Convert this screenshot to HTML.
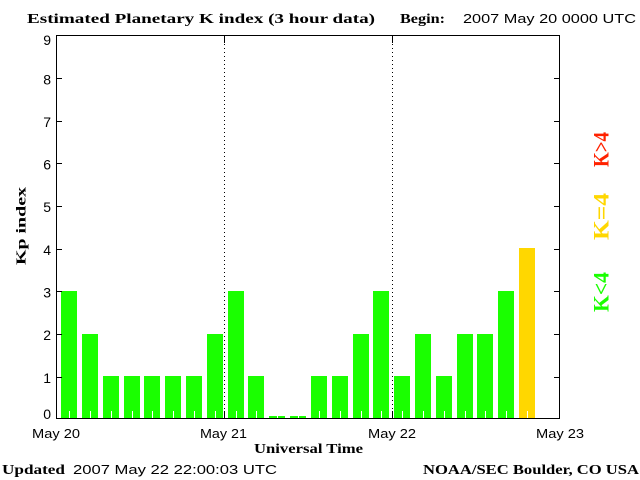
<!DOCTYPE html>
<html><head><meta charset="utf-8"><style>
html,body{margin:0;padding:0;background:#fff;}
svg{display:block;}
</style></head><body>
<svg width="640" height="480" viewBox="0 0 640 480" xmlns="http://www.w3.org/2000/svg" shape-rendering="crispEdges">
<rect x="0" y="0" width="640" height="480" fill="#fff"/>
<!-- bars -->
<g fill="#1aff00">
<rect x="61" y="291" width="16" height="128"/>
<rect x="82" y="334" width="16" height="85"/>
<rect x="103" y="376" width="16" height="43"/>
<rect x="124" y="376" width="16" height="43"/>
<rect x="144" y="376" width="16" height="43"/>
<rect x="165" y="376" width="16" height="43"/>
<rect x="186" y="376" width="16" height="43"/>
<rect x="207" y="334" width="16" height="85"/>
<rect x="228" y="291" width="16" height="128"/>
<rect x="248" y="376" width="16" height="43"/>
<rect x="269" y="416" width="16" height="3"/>
<rect x="290" y="416" width="16" height="3"/>
<rect x="311" y="376" width="16" height="43"/>
<rect x="332" y="376" width="16" height="43"/>
<rect x="353" y="334" width="16" height="85"/>
<rect x="373" y="291" width="16" height="128"/>
<rect x="394" y="376" width="16" height="43"/>
<rect x="415" y="334" width="16" height="85"/>
<rect x="436" y="376" width="16" height="43"/>
<rect x="457" y="334" width="16" height="85"/>
<rect x="477" y="334" width="16" height="85"/>
<rect x="498" y="291" width="16" height="128"/>
</g>
<rect x="519" y="248" width="16" height="171" fill="#ffd700"/>
<!-- white ticks on bars -->
<g fill="#fff">
<rect x="69" y="411" width="1" height="8"/>
<rect x="90" y="411" width="1" height="8"/>
<rect x="111" y="411" width="1" height="8"/>
<rect x="132" y="411" width="1" height="8"/>
<rect x="152" y="411" width="1" height="8"/>
<rect x="173" y="411" width="1" height="8"/>
<rect x="194" y="411" width="1" height="8"/>
<rect x="215" y="411" width="1" height="8"/>
<rect x="236" y="411" width="1" height="8"/>
<rect x="256" y="411" width="1" height="8"/>
<rect x="277" y="411" width="1" height="8"/>
<rect x="298" y="411" width="1" height="8"/>
<rect x="319" y="411" width="1" height="8"/>
<rect x="340" y="411" width="1" height="8"/>
<rect x="361" y="411" width="1" height="8"/>
<rect x="381" y="411" width="1" height="8"/>
<rect x="402" y="411" width="1" height="8"/>
<rect x="423" y="411" width="1" height="8"/>
<rect x="444" y="411" width="1" height="8"/>
<rect x="465" y="411" width="1" height="8"/>
<rect x="485" y="411" width="1" height="8"/>
<rect x="506" y="411" width="1" height="8"/>
<rect x="527" y="411" width="1" height="8"/>
</g>
<!-- axes frame -->
<rect x="56.5" y="35.5" width="503" height="383" fill="none" stroke="#000" stroke-width="1"/>
<!-- y ticks -->
<g stroke="#000" stroke-width="1">
<line x1="56" y1="78.5" x2="62" y2="78.5"/><line x1="554" y1="78.5" x2="560" y2="78.5"/>
<line x1="56" y1="121.5" x2="62" y2="121.5"/><line x1="554" y1="121.5" x2="560" y2="121.5"/>
<line x1="56" y1="163.5" x2="62" y2="163.5"/><line x1="554" y1="163.5" x2="560" y2="163.5"/>
<line x1="56" y1="206.5" x2="62" y2="206.5"/><line x1="554" y1="206.5" x2="560" y2="206.5"/>
<line x1="56" y1="249.5" x2="62" y2="249.5"/><line x1="554" y1="249.5" x2="560" y2="249.5"/>
<line x1="56" y1="291.5" x2="62" y2="291.5"/><line x1="554" y1="291.5" x2="560" y2="291.5"/>
<line x1="56" y1="334.5" x2="62" y2="334.5"/><line x1="554" y1="334.5" x2="560" y2="334.5"/>
<line x1="56" y1="377.5" x2="62" y2="377.5"/><line x1="554" y1="377.5" x2="560" y2="377.5"/>
<!-- day lines -->
<line x1="224.5" y1="35" x2="224.5" y2="43"/>
<line x1="224.5" y1="411" x2="224.5" y2="419"/>
<line x1="392.5" y1="35" x2="392.5" y2="43"/>
<line x1="392.5" y1="411" x2="392.5" y2="419"/>
<line x1="224.5" y1="44" x2="224.5" y2="411" stroke-dasharray="1 3"/>
<line x1="392.5" y1="44" x2="392.5" y2="411" stroke-dasharray="1 3"/>
</g>
<!-- y labels -->
<g font-family="'Liberation Sans', sans-serif" font-size="14" fill="#000" text-anchor="end">
<text x="51" y="45">9</text>
<text x="51" y="84.5">8</text>
<text x="51" y="127">7</text>
<text x="51" y="169.5">6</text>
<text x="51" y="212">5</text>
<text x="51" y="255">4</text>
<text x="51" y="297.5">3</text>
<text x="51" y="340">2</text>
<text x="51" y="383">1</text>
<text x="51" y="419">0</text>
</g>
<!-- x labels -->
<g font-family="'Liberation Sans', sans-serif" font-size="13" fill="#000">
<text x="32" y="438" textLength="48" lengthAdjust="spacingAndGlyphs">May 20</text>
<text x="200" y="438" textLength="47" lengthAdjust="spacingAndGlyphs">May 21</text>
<text x="368" y="438" textLength="48" lengthAdjust="spacingAndGlyphs">May 22</text>
<text x="536" y="438" textLength="48" lengthAdjust="spacingAndGlyphs">May 23</text>
<text x="463" y="23" textLength="173" lengthAdjust="spacingAndGlyphs">2007 May 20 0000 UTC</text>
<text x="73" y="474" textLength="204" lengthAdjust="spacingAndGlyphs">2007 May 22 22:00:03 UTC</text>
</g>
<g font-family="'Liberation Serif', serif" font-weight="bold" font-size="14" fill="#000">
<text x="27" y="23" textLength="348" lengthAdjust="spacingAndGlyphs">Estimated Planetary K index (3 hour data)</text>
<text x="400" y="23" textLength="45" lengthAdjust="spacingAndGlyphs">Begin:</text>
<text x="254" y="453" textLength="109" lengthAdjust="spacingAndGlyphs">Universal Time</text>
<text x="2" y="474" textLength="63" lengthAdjust="spacingAndGlyphs">Updated</text>
<text x="423" y="474" textLength="216" lengthAdjust="spacingAndGlyphs">NOAA/SEC Boulder, CO USA</text>
<text transform="translate(25.5,265) rotate(-90)" x="0" y="0" textLength="78" lengthAdjust="spacingAndGlyphs">Kp index</text>
</g>
<!-- legend -->
<g font-family="'Liberation Serif', serif" font-size="22" font-weight="bold">
<text transform="translate(608.5,167) rotate(-90)" x="0" y="0" fill="#ff2200" textLength="35" lengthAdjust="spacingAndGlyphs">K&gt;4</text>
<text transform="translate(608.5,240) rotate(-90)" x="0" y="0" fill="#ffd700" textLength="47" lengthAdjust="spacingAndGlyphs">K=4</text>
<text transform="translate(608.5,312) rotate(-90)" x="0" y="0" fill="#1aff00" textLength="40" lengthAdjust="spacingAndGlyphs">K&lt;4</text>
</g>
</svg>
</body></html>
